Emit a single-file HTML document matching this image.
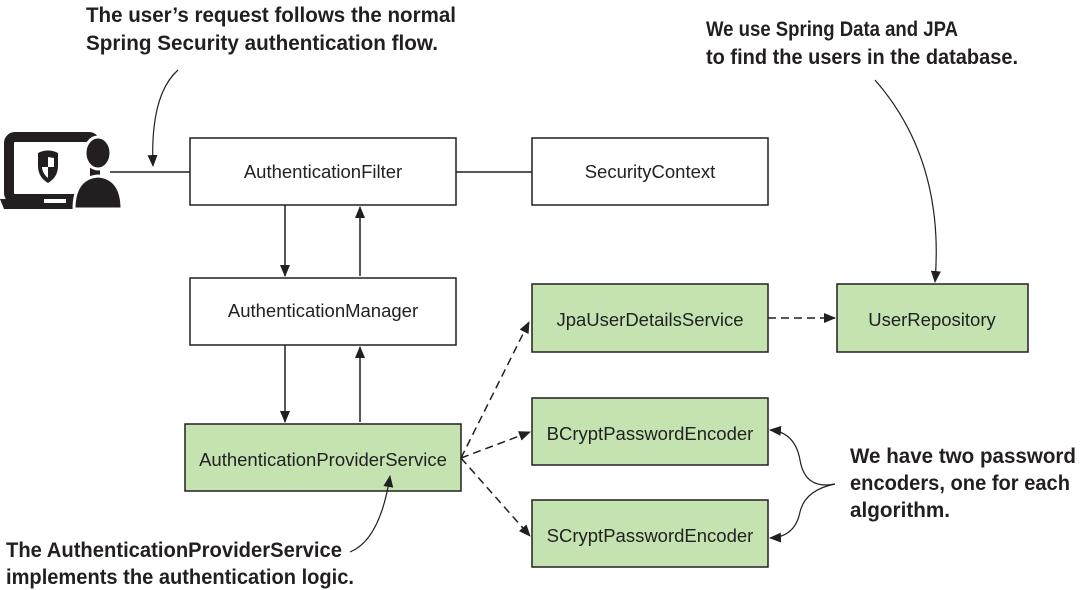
<!DOCTYPE html>
<html><head><style>
body{margin:0;background:#fff;}
svg{display:block}
.b{font-family:"Liberation Sans",sans-serif;font-size:18.5px;fill:#222;text-anchor:middle}
.a{font-family:"Liberation Sans",sans-serif;font-weight:bold;font-size:21px;fill:#231f20}
</style></head><body>
<svg width="1083" height="590" viewBox="0 0 1083 590">
<defs>
<marker id="ar" markerWidth="12" markerHeight="10" refX="11" refY="5" orient="auto" markerUnits="userSpaceOnUse">
<path d="M0,0 L12,5 L0,10 Z" fill="#231f20"/></marker>
</defs>
<!-- icon -->
<rect x="9" y="137" width="86" height="62" rx="6" fill="none" stroke="#231f20" stroke-width="10"/>
<path d="M0,199 L90,199 L90,209 L4,209 Z" fill="#231f20"/>
<rect x="44" y="199" width="22" height="4" fill="#fff"/>
<path d="M38,153 Q48,148 58,153 L58,166 Q58,177 48,183 Q38,177 38,166 Z" fill="#231f20"/>
<path d="M48,157 L54,158 L54,167 L48,167 Z M42,167 L48,167 L48,178 Q43,174 42,168 Z" fill="#fff"/>
<path d="M74,209 Q74,178 98,176 Q122,178 122,209 Z" fill="#231f20" stroke="#fff" stroke-width="3"/>
<ellipse cx="98" cy="153" rx="13" ry="16" fill="#231f20" stroke="#fff" stroke-width="3"/>
<line x1="110" y1="172" x2="190" y2="172" stroke="#231f20" stroke-width="1.5"/>
<line x1="456" y1="172" x2="532" y2="172" stroke="#231f20" stroke-width="1.5"/>
<path d="M178,70 Q150,95 153,166" fill="none" stroke="#231f20" stroke-width="1.2" marker-end="url(#ar)"/>
<!-- boxes -->
<g stroke="#231f20" stroke-width="1.5">
<rect x="190" y="138" width="266" height="67" fill="#fff"/>
<rect x="532" y="138" width="236" height="67" fill="#fff"/>
<rect x="190" y="278" width="266" height="67" fill="#fff"/>
<rect x="185" y="424" width="276" height="67" fill="#c5e2b1"/>
<rect x="532" y="284" width="236" height="68" fill="#c5e2b1"/>
<rect x="837" y="284" width="191" height="68" fill="#c5e2b1"/>
<rect x="532" y="398" width="236" height="67" fill="#c5e2b1"/>
<rect x="532" y="500" width="236" height="67" fill="#c5e2b1"/>
</g>
<text class="b" x="323" y="178">AuthenticationFilter</text>
<text class="b" x="650" y="178">SecurityContext</text>
<text class="b" x="323" y="317">AuthenticationManager</text>
<text class="b" x="323" y="466">AuthenticationProviderService</text>
<text class="b" x="650" y="326">JpaUserDetailsService</text>
<text class="b" x="932" y="326">UserRepository</text>
<text class="b" x="650" y="440">BCryptPasswordEncoder</text>
<text class="b" x="650" y="542">SCryptPasswordEncoder</text>
<!-- arrows -->
<g stroke="#231f20" stroke-width="1.5" fill="none">
<line x1="285" y1="205" x2="285" y2="276" marker-end="url(#ar)"/>
<line x1="360" y1="276" x2="360" y2="207" marker-end="url(#ar)"/>
<line x1="285" y1="345" x2="285" y2="422" marker-end="url(#ar)"/>
<line x1="360" y1="422" x2="360" y2="347" marker-end="url(#ar)"/>
<g stroke-dasharray="8,5">
<line x1="461" y1="458" x2="529" y2="322" marker-end="url(#ar)"/>
<line x1="461" y1="458" x2="530" y2="432" marker-end="url(#ar)"/>
<line x1="461" y1="458" x2="530" y2="536" marker-end="url(#ar)"/>
<line x1="768" y1="318" x2="835" y2="318" marker-end="url(#ar)"/>
</g>
<path d="M875,80 Q945,160 935,282" stroke-width="1.2" marker-end="url(#ar)"/>
<path d="M835,484 Q805,490 800,460 Q795,432 770,430" stroke-width="1.2" marker-end="url(#ar)"/>
<path d="M835,484 Q805,490 800,512 Q795,537 770,538" stroke-width="1.2" marker-end="url(#ar)"/>
<path d="M350,552 Q380,540 390,476" stroke-width="1.2" marker-end="url(#ar)"/>
</g>
<!-- annotations -->
<text class="a" x="86" y="22" textLength="370" lengthAdjust="spacingAndGlyphs">The user’s request follows the normal</text>
<text class="a" x="86" y="50" textLength="352" lengthAdjust="spacingAndGlyphs">Spring Security authentication flow.</text>
<text class="a" x="706" y="36" textLength="252" lengthAdjust="spacingAndGlyphs">We use Spring Data and JPA</text>
<text class="a" x="706" y="64" textLength="312" lengthAdjust="spacingAndGlyphs">to find the users in the database.</text>
<text class="a" x="850" y="463" textLength="226" lengthAdjust="spacingAndGlyphs">We have two password</text>
<text class="a" x="850" y="490" textLength="220" lengthAdjust="spacingAndGlyphs">encoders, one for each</text>
<text class="a" x="850" y="517" textLength="100" lengthAdjust="spacingAndGlyphs">algorithm.</text>
<text class="a" x="6" y="557" textLength="336" lengthAdjust="spacingAndGlyphs">The AuthenticationProviderService</text>
<text class="a" x="6" y="584" textLength="348" lengthAdjust="spacingAndGlyphs">implements the authentication logic.</text>
</svg>
</body></html>
